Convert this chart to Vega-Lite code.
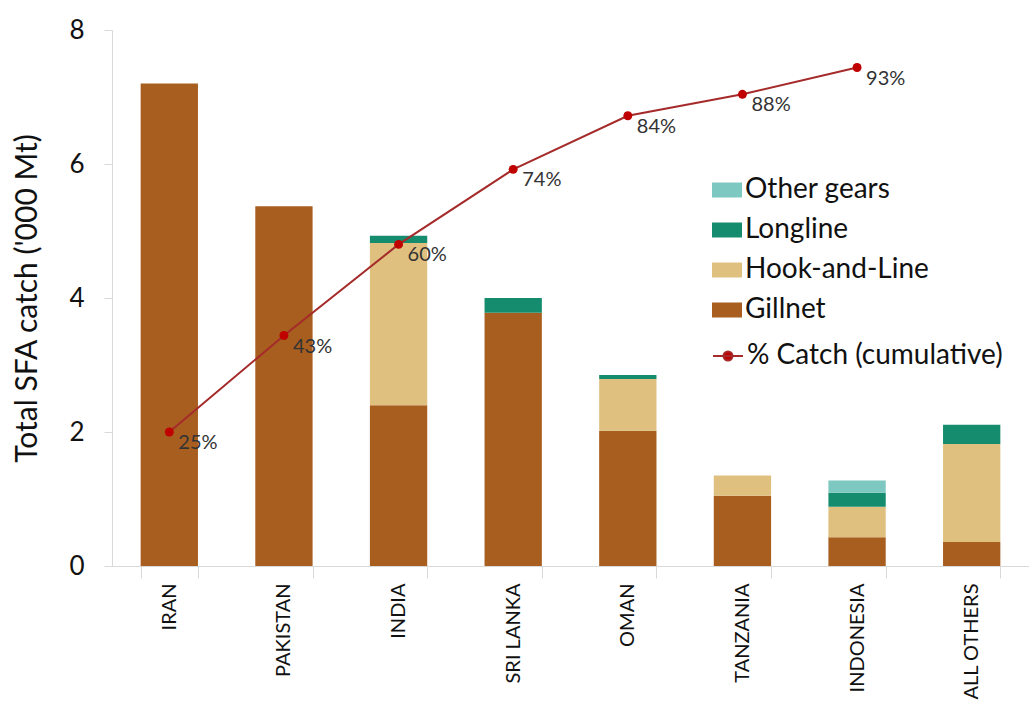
{
  "$schema": "https://vega.github.io/schema/vega-lite/v6.json",
  "width": 917,
  "height": 536,
  "autosize": "none",
  "padding": {"left": 112, "top": 30, "right": 0, "bottom": 146},
  "background": "white",
  "config": {
    "view": {"stroke": null},
    "font": "Lato",
    "axis": {"grid": false, "domainColor": "#d9d9d9", "tickColor": "#d9d9d9", "labelColor": "#111111", "titleColor": "#111111", "labelFont": "Lato", "titleFont": "Lato"},
    "legend": {"labelFont": "Lato", "labelColor": "#111111", "padding": 0, "labelLimit": 500}
  },
  "datasets": {
    "catch": [
      {"country": "IRAN", "gear": "Gillnet", "catch": 7.2},
      {"country": "PAKISTAN", "gear": "Gillnet", "catch": 5.37},
      {"country": "INDIA", "gear": "Gillnet", "catch": 2.4},
      {"country": "INDIA", "gear": "Hook-and-Line", "catch": 2.42},
      {"country": "INDIA", "gear": "Longline", "catch": 0.11},
      {"country": "SRI LANKA", "gear": "Gillnet", "catch": 3.78},
      {"country": "SRI LANKA", "gear": "Longline", "catch": 0.22},
      {"country": "OMAN", "gear": "Gillnet", "catch": 2.02},
      {"country": "OMAN", "gear": "Hook-and-Line", "catch": 0.77},
      {"country": "OMAN", "gear": "Longline", "catch": 0.06},
      {"country": "TANZANIA", "gear": "Gillnet", "catch": 1.05},
      {"country": "TANZANIA", "gear": "Hook-and-Line", "catch": 0.3},
      {"country": "INDONESIA", "gear": "Gillnet", "catch": 0.43},
      {"country": "INDONESIA", "gear": "Hook-and-Line", "catch": 0.455},
      {"country": "INDONESIA", "gear": "Longline", "catch": 0.21},
      {"country": "INDONESIA", "gear": "Other gears", "catch": 0.18},
      {"country": "ALL OTHERS", "gear": "Gillnet", "catch": 0.36},
      {"country": "ALL OTHERS", "gear": "Hook-and-Line", "catch": 1.46},
      {"country": "ALL OTHERS", "gear": "Longline", "catch": 0.29}
    ],
    "cum": [
      {"country": "IRAN", "pct": 0.25},
      {"country": "PAKISTAN", "pct": 0.43},
      {"country": "INDIA", "pct": 0.60},
      {"country": "SRI LANKA", "pct": 0.74},
      {"country": "OMAN", "pct": 0.84},
      {"country": "TANZANIA", "pct": 0.88},
      {"country": "INDONESIA", "pct": 0.93}
    ]
  },
  "layer": [
    {
      "data": {"name": "catch"},
      "mark": {"type": "bar"},
      "encoding": {
        "x": {
          "field": "country", "type": "nominal",
          "sort": ["IRAN", "PAKISTAN", "INDIA", "SRI LANKA", "OMAN", "TANZANIA", "INDONESIA", "ALL OTHERS"],
          "scale": {"paddingInner": 0.5, "paddingOuter": 0.25},
          "axis": {"title": null, "labelAngle": -90, "labelAlign": "right", "labelBaseline": "middle", "labelFontSize": 20, "tickBand": "extent", "tickSize": 12, "labelPadding": 5}
        },
        "y": {
          "field": "catch", "type": "quantitative", "stack": "zero",
          "scale": {"domain": [0, 8]},
          "axis": {"values": [0, 2, 4, 6, 8], "title": "Total SFA catch ('000 Mt)", "titleFontSize": 30, "titleFontWeight": "normal", "labelFontSize": 26, "tickSize": 8, "labelPadding": 20, "titlePadding": 26}
        },
        "order": {"field": "gear", "type": "nominal", "sort": "ascending"},
        "color": {
          "field": "gear", "type": "nominal",
          "scale": {"domain": ["Other gears", "Longline", "Hook-and-Line", "Gillnet"], "range": ["#7DC8C0", "#168C6F", "#DFC07F", "#A85E1F"]},
          "legend": {"orient": "none", "legendX": 600, "legendY": 145, "title": null, "symbolType": "M-1,-0.5H1V0.5H-1Z", "symbolSize": 900, "symbolStrokeWidth": 0, "labelFontSize": 28, "rowPadding": 11, "labelOffset": 3}
        }
      }
    },
    {
      "data": {"name": "cum"},
      "encoding": {
        "x": {"field": "country", "type": "nominal", "sort": ["IRAN", "PAKISTAN", "INDIA", "SRI LANKA", "OMAN", "TANZANIA", "INDONESIA", "ALL OTHERS"]},
        "y": {"field": "pct", "type": "quantitative", "scale": {"domain": [0, 1]}, "axis": null}
      },
      "layer": [
        {
          "mark": {"type": "line", "strokeWidth": 2},
          "encoding": {
            "stroke": {
              "datum": "% Catch (cumulative)", "type": "nominal",
              "scale": {"range": ["#A52A2A"]},
              "legend": {"orient": "none", "legendX": 600, "legendY": 310, "title": null, "symbolType": "M-1,0H1M-0.3,0A0.3,0.3,0,1,0,0.3,0A0.3,0.3,0,1,0,-0.3,0", "symbolSize": 900, "symbolStrokeWidth": 2, "labelFontSize": 28, "labelOffset": 3, "symbolFillColor": "#C00000", "encode": {"symbols": {"update": {"fill": {"value": "#C00000"}}}}}
            }
          }
        },
        {"mark": {"type": "point", "filled": true, "size": 80, "color": "#C00000", "opacity": 1}},
        {
          "mark": {"type": "text", "align": "left", "baseline": "middle", "dx": 9, "dy": 11, "fontSize": 20, "color": "#333333"},
          "encoding": {"text": {"field": "pct", "type": "quantitative", "format": ".0%"}}
        }
      ]
    }
  ],
  "resolve": {"scale": {"y": "independent"}}
}
